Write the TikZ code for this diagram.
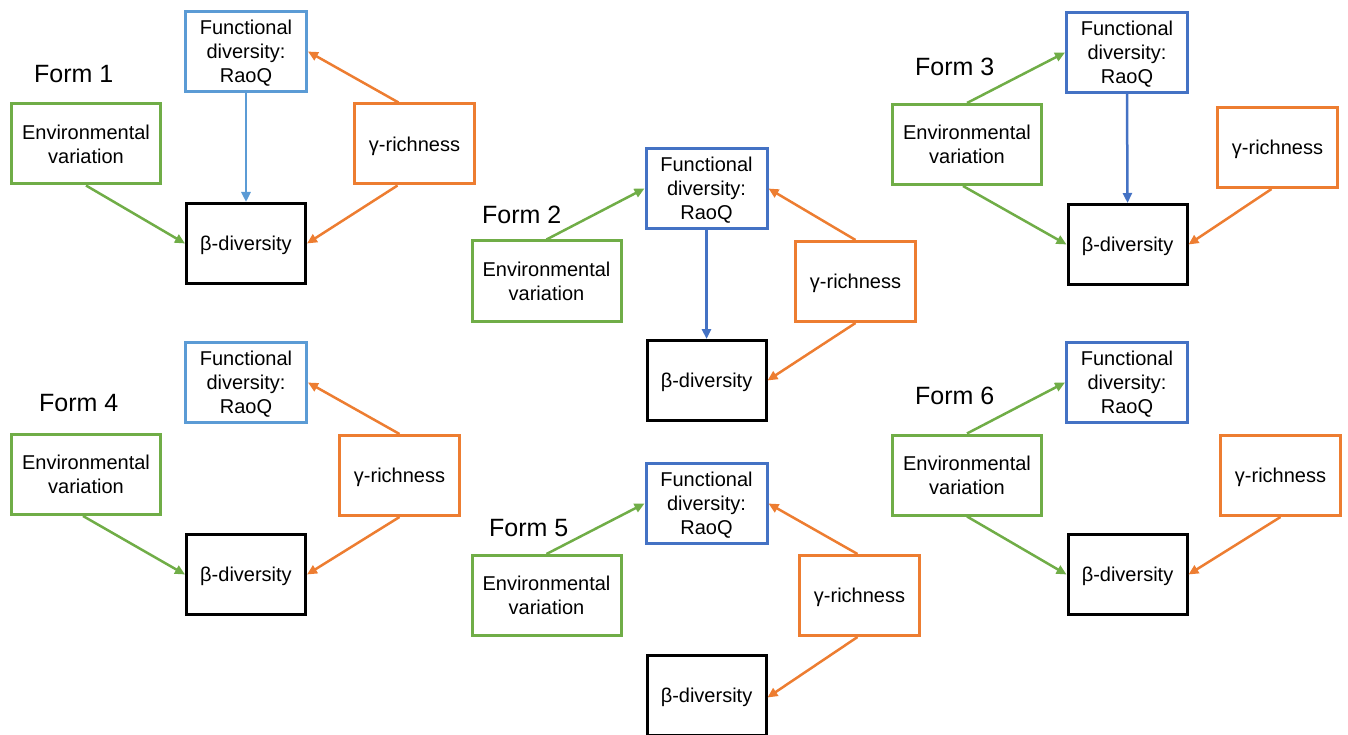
\documentclass[tikz,border=0pt]{standalone}
\usepackage{fontspec}
\setmainfont{Liberation Sans}
\usetikzlibrary{arrows.meta}
\definecolor{cgreen}{HTML}{70AD47}
\definecolor{corange}{HTML}{ED7D31}
\definecolor{clblue}{HTML}{5B9BD5}
\definecolor{cdblue}{HTML}{4472C4}
\begin{document}
\begin{tikzpicture}[x=1pt,y=-1pt,
  box/.style={draw,line width=3pt,align=center,inner sep=0pt,minimum height=80pt,
    text depth=0pt,font=\fontsize{20}{24}\selectfont},
  fdl/.style={box,draw=clblue,minimum width=121pt},
  fdd/.style={box,draw=cdblue,minimum width=121pt},
  envbox/.style={box,draw=cgreen,minimum width=149pt},
  gambox/.style={box,draw=corange,minimum width=120pt},
  betabox/.style={box,draw=black,minimum width=119pt},
  arr/.style={line width=2.5pt,-{Triangle[length=10pt,width=9pt]}},
  garr/.style={arr,draw=cgreen,fill=cgreen},
  oarr/.style={arr,draw=corange,fill=corange},
  lbarr/.style={arr,draw=clblue,fill=clblue},
  dbarr/.style={arr,draw=cdblue,fill=cdblue},
  formlbl/.style={anchor=base west,inner sep=0pt,font=\fontsize{25}{29}\selectfont}
]
\useasboundingbox (0,0) rectangle (1348,735);

% ---------- Form 1 ----------
\node[formlbl] (l1) at (34,83) {Form 1};
\node[fdl] (f1) at (246,51.5) {Functional\\diversity:\\RaoQ};
\node[envbox] (e1) at (86,144) {Environmental\\variation};
\node[gambox] (g1) at (414.5,144) {γ-richness};
\node[betabox] (b1) at (246,243.5) {β-diversity};
\draw[lbarr] (f1.south) -- (b1.north);
\draw[garr] (e1.south) -- (b1.west);
\draw[oarr] ([xshift=-16pt]g1.north) -- (f1.east);
\draw[oarr] ([xshift=-17pt]g1.south) -- (b1.east);

% ---------- Form 2 ----------
\node[formlbl] (l2) at (482,224) {Form 2};
\node[fdd] (f2) at (706.5,188.5) {Functional\\diversity:\\RaoQ};
\node[envbox] (e2) at (546.5,281) {Environmental\\variation};
\node[gambox] (g2) at (855.5,281.5) {γ-richness};
\node[betabox] (b2) at (706.5,380.5) {β-diversity};
\draw[dbarr] (f2.south) -- (b2.north);
\draw[garr] (e2.north) -- (f2.west);
\draw[oarr] (g2.north) -- (f2.east);
\draw[oarr] (g2.south) -- (b2.east);

% ---------- Form 3 ----------
\node[formlbl] (l3) at (915,76) {Form 3};
\node[fdd] (f3) at (1127,52.5) {Functional\\diversity:\\RaoQ};
\node[envbox] (e3) at (967,144.5) {Environmental\\variation};
\node[gambox] (g3) at (1277.5,147.5) {γ-richness};
\node[betabox] (b3) at (1127.5,244.5) {β-diversity};
\draw[dbarr] (f3.south) -- (b3.north);
\draw[garr] (e3.north) -- (f3.west);
\draw[garr] ([xshift=-4pt]e3.south) -- (b3.west);
\draw[oarr] ([xshift=-6pt]g3.south) -- (b3.east);

% ---------- Form 4 ----------
\node[formlbl] (l4) at (39,411) {Form 4};
\node[fdl] (f4) at (246,382.5) {Functional\\diversity:\\RaoQ};
\node[envbox] (e4) at (86,474.5) {Environmental\\variation};
\node[gambox] (g4) at (399.5,475.5) {γ-richness};
\node[betabox] (b4) at (246,574.5) {β-diversity};
\draw[garr] ([xshift=-3pt]e4.south) -- (b4.west);
\draw[oarr] (g4.north) -- (f4.east);
\draw[oarr] (g4.south) -- (b4.east);

% ---------- Form 5 ----------
\node[formlbl] (l5) at (489,536) {Form 5};
\node[fdd] (f5) at (706.5,503.5) {Functional\\diversity:\\RaoQ};
\node[envbox] (e5) at (546.5,595.5) {Environmental\\variation};
\node[gambox] (g5) at (859.5,595.5) {γ-richness};
\node[betabox] (b5) at (706.5,695.5) {β-diversity};
\draw[garr] (e5.north) -- (f5.west);
\draw[oarr] ([xshift=-2pt]g5.north) -- (f5.east);
\draw[oarr] ([xshift=-2pt]g5.south) -- ([yshift=-2pt]b5.east);

% ---------- Form 6 ----------
\node[formlbl] (l6) at (915,404) {Form 6};
\node[fdd] (f6) at (1127,382.5) {Functional\\diversity:\\RaoQ};
\node[envbox] (e6) at (967,475) {Environmental\\variation};
\node[gambox] (g6) at (1280.5,475.5) {γ-richness};
\node[betabox] (b6) at (1127.5,574.5) {β-diversity};
\draw[garr] (e6.north) -- (f6.west);
\draw[garr] (e6.south) -- (b6.west);
\draw[oarr] (g6.south) -- (b6.east);
\end{tikzpicture}
\end{document}
